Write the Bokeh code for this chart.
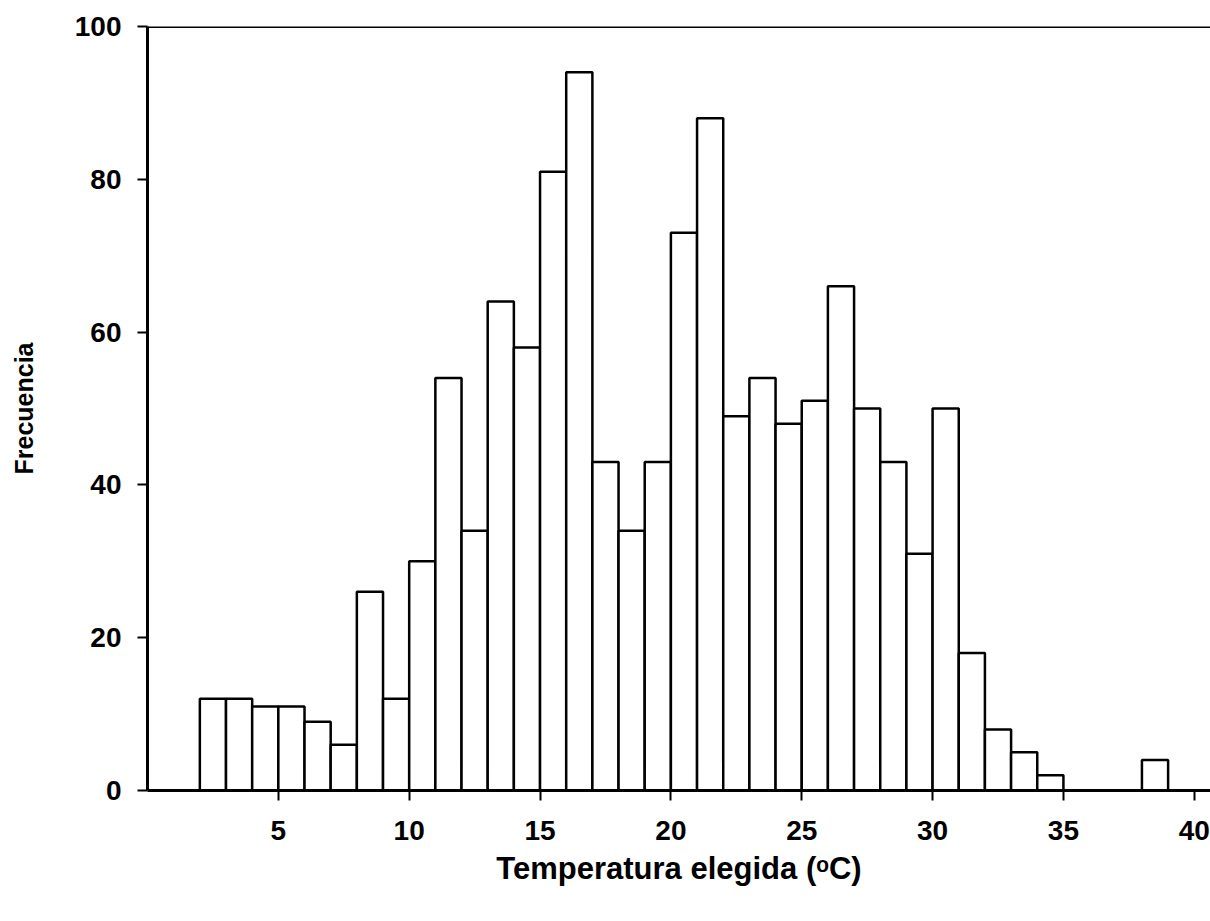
from bokeh.plotting import figure
from bokeh.models import Range1d, Span, FixedTicker
from bokeh.embed import file_html
from bokeh.resources import INLINE

# Histogram data: bin left edges (°C) and frequencies (bin width = 1 °C)
bin_left = [2, 3, 4, 5, 6, 7, 8, 9, 10, 11, 12, 13, 14, 15, 16, 17, 18, 19, 20,
            21, 22, 23, 24, 25, 26, 27, 28, 29, 30, 31, 32, 33, 34, 38]
counts = [12, 12, 11, 11, 9, 6, 26, 12, 30, 54, 34, 64, 58, 81, 94, 43, 34, 43, 73,
          88, 49, 54, 48, 51, 66, 50, 43, 31, 50, 18, 8, 5, 2, 4]
bin_width = 1
x_ticks = [5, 10, 15, 20, 25, 30, 35, 40]
y_ticks = [0, 20, 40, 60, 80, 100]
x_label = "Temperatura elegida (ᵒC)"
y_label = "Frecuencia"

FONT = "Liberation Sans"

p = figure(width=1210, height=921, output_backend="svg", toolbar_location=None,
           x_range=Range1d(0, 40.62), y_range=Range1d(0, 100),
           min_border_left=147, min_border_right=0, min_border_top=26,
           min_border_bottom=131)

p.quad(left=bin_left, right=[b + bin_width for b in bin_left], bottom=0, top=counts,
       fill_color="white", line_color="black", line_width=2.5)

p.add_layout(Span(location=100, dimension="width", line_color="black", line_width=3))

p.outline_line_color = None
p.xgrid.visible = False
p.ygrid.visible = False
p.background_fill_color = "white"
p.border_fill_color = "white"

for ax in (p.xaxis[0], p.yaxis[0]):
    ax.axis_line_width = 3
    ax.axis_line_color = "black"
    ax.major_tick_line_width = 2
    ax.major_tick_line_color = "black"
    ax.major_tick_out = 10
    ax.major_tick_in = 0
    ax.minor_tick_line_color = None
    ax.major_label_text_font = FONT
    ax.major_label_text_font_style = "bold"
    ax.major_label_text_font_size = "28px"
    ax.major_label_text_color = "black"
    ax.axis_label_text_font = FONT
    ax.axis_label_text_font_style = "bold"
    ax.axis_label_text_color = "black"

p.xaxis.ticker = FixedTicker(ticks=x_ticks)
p.yaxis.ticker = FixedTicker(ticks=y_ticks)
p.xaxis.major_label_standoff = 20
p.yaxis.major_label_standoff = 16
p.xaxis.axis_label = x_label
p.xaxis.axis_label_text_font_size = "31px"
p.xaxis.axis_label_standoff = 8
p.yaxis.axis_label = y_label
p.yaxis.axis_label_text_font_size = "25px"
p.yaxis.axis_label_standoff = 34

open("out.html", "w").write(file_html(p, INLINE))
